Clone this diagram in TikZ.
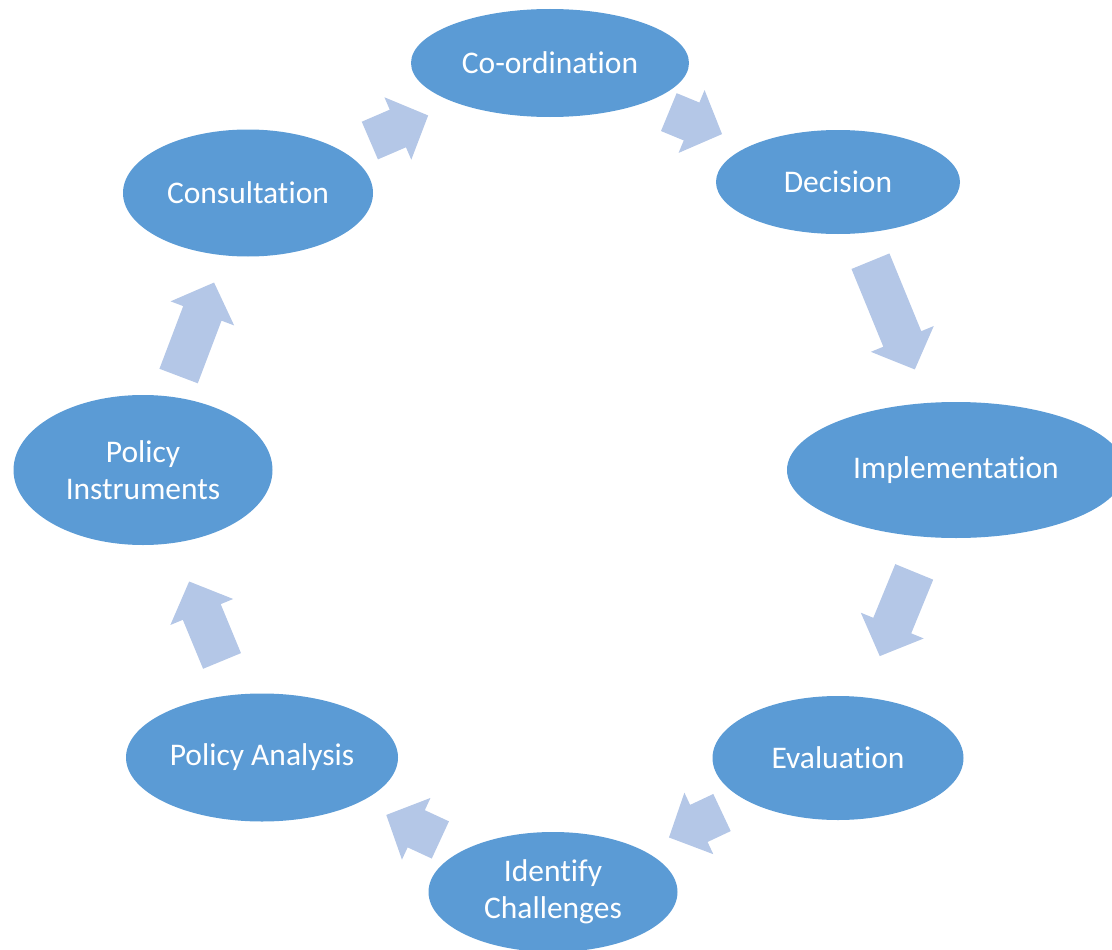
\documentclass[tikz,border=0pt]{standalone}
\usepackage{fontspec}
\setmainfont{Carlito}[Ligatures=NoCommon]
\usepackage{tikz}
\usetikzlibrary{shapes.geometric}
\usepackage{xcolor}
\definecolor{stageblue}{HTML}{5B9BD5}
\definecolor{arrowblue}{HTML}{B4C7E7}

\begin{document}
\begin{tikzpicture}[x=1pt,y=-1pt,
		stage/.style={ellipse,fill=stageblue,text=white,inner sep=0pt,align=center,
			font=\fontsize{31.5}{37}\selectfont},
		onpath/.style={pos=#1,sloped,allow upside down},
		cyclearrow/.pic={
			\fill [arrowblue] (-#1/2,-20.5) -- (#1/2-33,-20.5) -- (#1/2-33,-34) -- (#1/2,0)
				-- (#1/2-33,34) -- (#1/2-33,20.5) -- (-#1/2,20.5) -- cycle;
		}]
				\useasboundingbox (0,0) rectangle (1112,950);
				% the stages of the cycle
				\node [stage,minimum width=278pt,minimum height=108pt] (coord) at (550,63) {Co-ordination};
				\node [stage,minimum width=244pt,minimum height=104pt] (dec) at (838,182) {Decision};
				\node [stage,minimum width=338pt,minimum height=136pt] (impl) at (956,470) {Implementation};
				\node [stage,minimum width=251pt,minimum height=124pt] (eval) at (838,758) {Evaluation};
				\node [stage,minimum width=249pt,minimum height=120pt] (chal) at (553,892) {Identify\\Challenges};
				\node [stage,minimum width=272pt,minimum height=128pt] (anal) at (262,757.5) {Policy Analysis};
				\node [stage,minimum width=259pt,minimum height=150pt] (instr) at (143,470) {Policy\\Instruments};
				\node [stage,minimum width=250pt,minimum height=127pt] (cons) at (248,193) {Consultation};
				% block arrows between them
				\path (cons.center) -- pic [onpath=0.5] {cyclearrow=63.5} (coord.center);
				\path (coord.center) -- pic [onpath=0.505] {cyclearrow=57.6} (dec.center);
				\path (dec.center) -- pic [onpath=0.463] {cyclearrow=117} (impl.center);
				\path (impl.center) -- pic [onpath=0.5] {cyclearrow=91} (eval.center);
				\path (eval.center) -- pic [onpath=0.5] {cyclearrow=58.6} (chal.center);
				\path (chal.center) -- pic [onpath=0.48] {cyclearrow=59.6} (anal.center);
				\path (anal.center) -- pic [onpath=0.474] {cyclearrow=86} (instr.center);
				\path (instr.center) -- pic [onpath=0.508] {cyclearrow=100} (cons.center);
			\end{tikzpicture}
\end{document}
